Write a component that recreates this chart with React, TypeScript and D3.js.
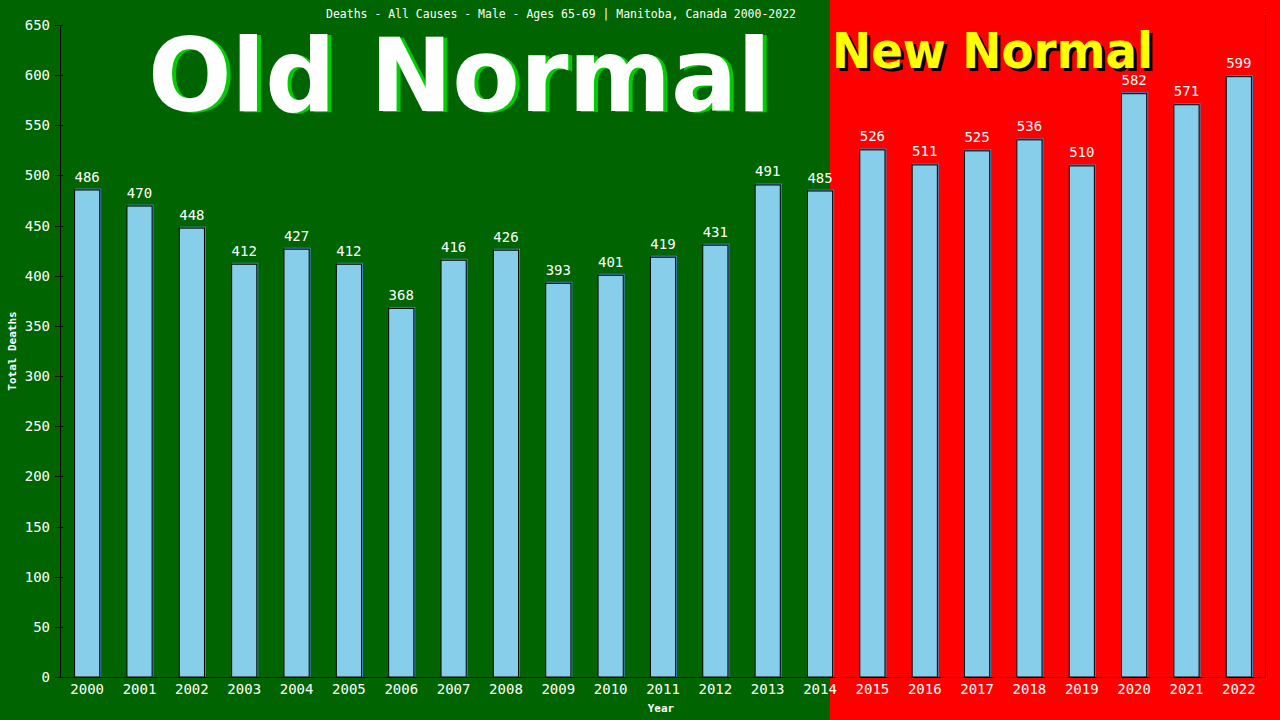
import React from "react";
import * as d3 from "d3";

const years = ["2000","2001","2002","2003","2004","2005","2006","2007","2008","2009","2010","2011","2012","2013","2014","2015","2016","2017","2018","2019","2020","2021","2022"];
const deaths = [486,470,448,412,427,412,368,416,426,393,401,419,431,491,485,526,511,525,536,510,582,571,599];
const yTicks = [0,50,100,150,200,250,300,350,400,450,500,550,600,650];
const title = "Deaths - All Causes - Male - Ages 65-69 | Manitoba, Canada 2000-2022";

const W = 1280, H = 720;
const left = 61, right = 1265, top = 25, bottom = 677;
const splitX = 830;
const mono = "'DejaVu Sans Mono', 'Liberation Mono', monospace";
const sans = "'DejaVu Sans', Verdana, sans-serif";

export default function App() {
  const x = d3.scaleBand<string>().domain(years).range([left, right]).paddingInner(0.5).paddingOuter(0.25);
  const y = d3.scaleLinear().domain([0, 650]).range([bottom, top]);
  const bw = x.bandwidth();
  return (
    <svg width={W} height={H} style={{ position: "absolute", left: 0, top: 0, display: "block" }}>
      <rect x={0} y={0} width={splitX} height={H} fill="#006400" />
      <rect x={splitX} y={0} width={W - splitX} height={H} fill="#ff0000" />
      <text x={326} y={18} fill="#fff" fontFamily={mono} fontSize={12.5} textLength={470} lengthAdjust="spacingAndGlyphs">{title}</text>

      <text x={152} y={112} fill="#00cc00" fontFamily={sans} fontWeight="bold" fontSize={101} textLength={623} lengthAdjust="spacingAndGlyphs">Old Normal</text>
      <text x={148} y={111} fill="#ffffff" fontFamily={sans} fontWeight="bold" fontSize={101} textLength={623} lengthAdjust="spacingAndGlyphs">Old Normal</text>

      <text x={835} y={71} fill="#000" fontFamily={sans} fontWeight="bold" fontSize={49} textLength={321} lengthAdjust="spacingAndGlyphs">New Normal</text>
      <text x={832} y={68} fill="#ffff00" fontFamily={sans} fontWeight="bold" fontSize={49} textLength={321} lengthAdjust="spacingAndGlyphs">New Normal</text>

      {years.map((yr, i) => {
        const bx = x(yr)!;
        const by = y(deaths[i]);
        return (
          <g key={yr}>
            <rect x={bx + 1} y={by - 1} width={bw} height={bottom - by + 1} fill="#4682b4" />
            <rect x={bx + 0.5} y={by + 0.5} width={bw - 1} height={bottom - by - 0.5} fill="#87ceeb" stroke="#000" strokeWidth={1} />
            <text x={bx + bw / 2} y={by - 8} textAnchor="middle" fill="#fff" fontFamily={mono} fontSize={14}>{deaths[i]}</text>
            <text x={bx + bw / 2} y={694} textAnchor="middle" fill="#fff" fontFamily={mono} fontSize={14}>{yr}</text>
          </g>
        );
      })}

      <line x1={left - 0.5} x2={left - 0.5} y1={top} y2={bottom} stroke="#000" />
      <line x1={left - 1} x2={right} y1={bottom + 0.5} y2={bottom + 0.5} stroke="#000" />
      <line x1={right + 0.5} x2={right + 0.5} y1={top - 10} y2={bottom + 1} stroke="#000" />
      {yTicks.map((t) => (
        <g key={t}>
          <line x1={55} x2={63} y1={Math.round(y(t)) + 0.5} y2={Math.round(y(t)) + 0.5} stroke="#000" />
          <text x={50} y={y(t) + 5} textAnchor="end" fill="#fff" fontFamily={mono} fontSize={14}>{t}</text>
        </g>
      ))}
      <text transform={`translate(16,${(top + bottom) / 2}) rotate(-90)`} textAnchor="middle" fill="#fff" fontFamily={mono} fontWeight="bold" fontSize={11}>Total Deaths</text>
      <text x={661} y={712} textAnchor="middle" fill="#fff" fontFamily={mono} fontWeight="bold" fontSize={11}>Year</text>
    </svg>
  );
}
